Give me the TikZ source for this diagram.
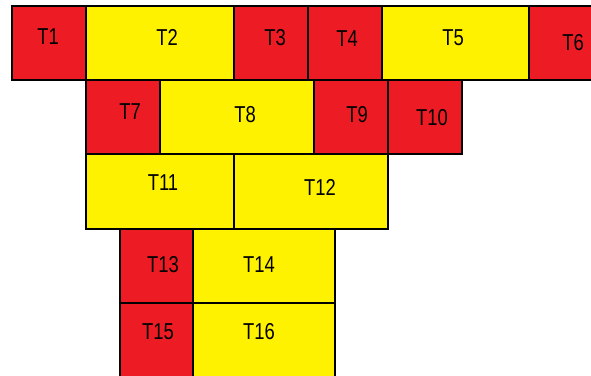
\documentclass[tikz,border=0pt]{standalone}
\usepackage{fontspec}
\setsansfont{Liberation Sans}
\usepackage{graphicx}
\usepackage{tikz}
\definecolor{tileRed}{HTML}{ED1C24}
\definecolor{tileYellow}{HTML}{FFF200}
\newcommand{\tname}[1]{\scalebox{0.8}[1]{#1}}

\begin{document}
\begin{tikzpicture}[
    x=1pt,y=-1pt,
    cell/.style={draw=black,line width=1.8pt,anchor=north west,inner sep=0pt,outer sep=0pt},
    red/.style={cell,fill=tileRed},
    yellow/.style={cell,fill=tileYellow},
    lbl/.style={inner sep=0pt,font=\sffamily\fontsize{23}{23}\selectfont}
  ]
    \useasboundingbox (0,0) rectangle (591,375);
    \clip (0,0) rectangle (591,375);
    % first row
    \node[red,minimum width=74pt,minimum height=74pt] (c1) at (12,6) {};
    \node[yellow,minimum width=148pt,minimum height=74pt] (c2) at (86,6) {};
    \node[red,minimum width=74pt,minimum height=74pt] (c3) at (234,6) {};
    \node[red,minimum width=74pt,minimum height=74pt] (c4) at (308,6) {};
    \node[yellow,minimum width=147pt,minimum height=74pt] (c5) at (382,6) {};
    \node[red,minimum width=90pt,minimum height=74pt] (c6) at (529,6) {};
    % second row
    \node[red,minimum width=74pt,minimum height=74pt] (c7) at (86,80) {};
    \node[yellow,minimum width=154pt,minimum height=74pt] (c8) at (160,80) {};
    \node[red,minimum width=74pt,minimum height=74pt] (c9) at (314,80) {};
    \node[red,minimum width=74pt,minimum height=74pt] (c10) at (388,80) {};
    % third row
    \node[yellow,minimum width=148pt,minimum height=75pt] (c11) at (86,154) {};
    \node[yellow,minimum width=154pt,minimum height=75pt] (c12) at (234,154) {};
    % fourth and fifth rows
    \node[red,minimum width=73pt,minimum height=74pt] (c13) at (120,229) {};
    \node[yellow,minimum width=142pt,minimum height=74pt] (c14) at (193,229) {};
    \node[red,minimum width=73pt,minimum height=90pt] (c15) at (120,303) {};
    \node[yellow,minimum width=142pt,minimum height=90pt] (c16) at (193,303) {};
    % names
    \node[lbl] (t1) at (48,37) {\tname{T1}};
    \node[lbl] (t2) at (167,37) {\tname{T2}};
    \node[lbl] (t3) at (275,38) {\tname{T3}};
    \node[lbl] (t4) at (347,39) {\tname{T4}};
    \node[lbl] (t5) at (453,38) {\tname{T5}};
    \node[lbl] (t6) at (573,43) {\tname{T6}};
    \node[lbl] (t7) at (130,112) {\tname{T7}};
    \node[lbl] (t8) at (245,115) {\tname{T8}};
    \node[lbl] (t9) at (357,115) {\tname{T9}};
    \node[lbl] (t10) at (432,118) {\tname{T10}};
    \node[lbl] (t11) at (163,183) {\tname{T11}};
    \node[lbl] (t12) at (320,187) {\tname{T12}};
    \node[lbl] (t13) at (163,265) {\tname{T13}};
    \node[lbl] (t14) at (259,265) {\tname{T14}};
    \node[lbl] (t15) at (158,332) {\tname{T15}};
    \node[lbl] (t16) at (259,332) {\tname{T16}};
  \end{tikzpicture}
\end{document}
